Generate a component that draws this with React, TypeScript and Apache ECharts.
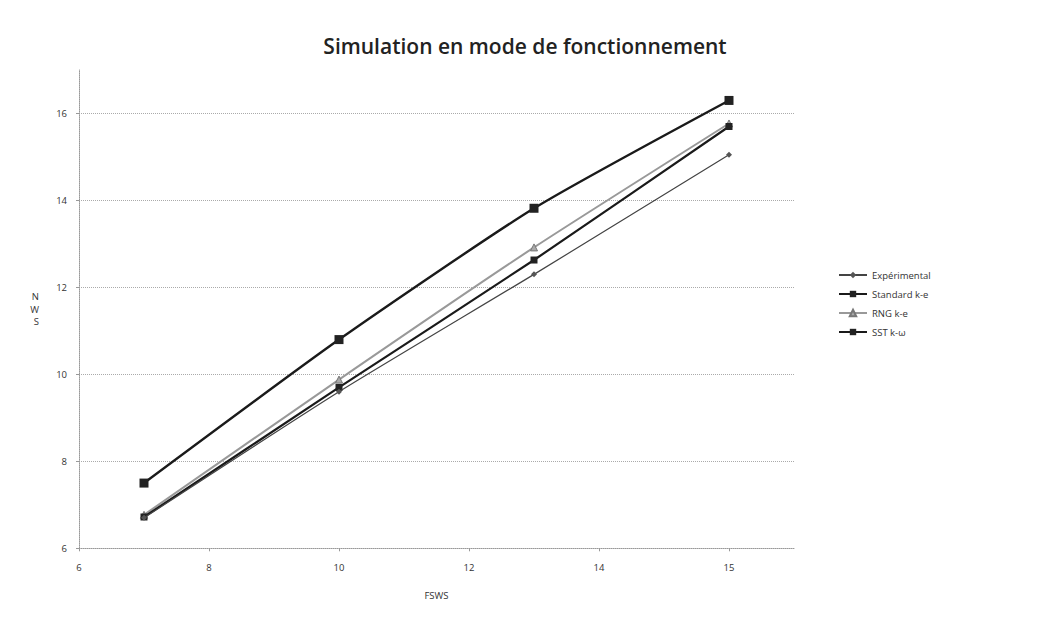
import React, { useEffect, useRef } from "react";
import * as echarts from "echarts";

const titleText = "Simulation en mode de fonctionnement";
const xAxisName = "FSWS";
const yAxisName = "N\nW\nS";
const fsws = [7, 10, 13, 16];
const xTickLabels = ["6", "8", "10", "12", "14", "15"];
const experimental = [6.7, 9.6, 12.3, 15.05];
const standardKe = [6.72, 9.7, 12.63, 15.7];
const rngKe = [6.77, 9.88, 12.92, 15.77];
const sstKw = [7.5, 10.8, 13.82, 16.3];
const seriesNames = ["Expérimental", "Standard k-e", "RNG k-e", "SST k-ω"];

const FONT = "'Open Sans', 'Noto Sans', sans-serif";

export default function App() {
  const ref = useRef<HTMLDivElement>(null);
  useEffect(() => {
    document.body.style.margin = "0";
    const chart = echarts.init(ref.current!, undefined, { renderer: "svg" });
    const pts = (ys: number[]) => fsws.map((x, i) => [x, ys[i]]);
    chart.setOption({
      animation: false,
      backgroundColor: "#fff",
      textStyle: { fontFamily: FONT },
      title: {
        text: titleText,
        left: 520,
        textAlign: "center",
        top: 30,
        textStyle: { fontFamily: FONT, fontSize: 21, fontWeight: 600, color: "#222" },
      },
      grid: { left: 79, top: 70, width: 715, height: 478.3, containLabel: false },
      legend: {
        orient: "vertical",
        left: 833,
        top: 265,
        itemGap: 9,
        itemWidth: 28,
        itemHeight: 8,
        textStyle: { fontFamily: FONT, fontSize: 9.5, color: "#333" },
        data: seriesNames,
      },
      xAxis: {
        type: "value",
        min: 6,
        max: 17,
        interval: 2,
        name: xAxisName,
        nameLocation: "middle",
        nameGap: 42,
        nameTextStyle: { fontFamily: FONT, fontSize: 9.5, color: "#333" },
        axisLine: { show: true, lineStyle: { color: "#999", type: "dotted" } },
        axisTick: { show: true, length: 3, lineStyle: { color: "#999" } },
        axisLabel: {
          fontFamily: FONT,
          fontSize: 9.5,
          color: "#333",
          margin: 14,
          showMaxLabel: false,
          formatter: (v: number) => {
            const i = Math.round((v - 6) / 2);
            return Number.isInteger((v - 6) / 2) && xTickLabels[i] ? xTickLabels[i] : "";
          },
        },
        splitLine: { show: false },
      },
      yAxis: {
        type: "value",
        min: 6,
        max: 17,
        interval: 2,
        name: yAxisName,
        nameLocation: "middle",
        nameRotate: 0,
        nameGap: 40,
        nameTextStyle: { fontFamily: FONT, fontSize: 9.5, color: "#333", lineHeight: 12.5 },
        axisLine: { show: true, lineStyle: { color: "#999", type: "dotted" } },
        axisTick: { show: true, length: 3, lineStyle: { color: "#999" } },
        axisLabel: { fontFamily: FONT, fontSize: 9.5, color: "#333", margin: 12, showMaxLabel: false },
        splitLine: {
          show: true,
          showMaxLine: false,
          lineStyle: { color: "#aaa", type: "dotted", width: 1 },
        },
      },
      series: [
        {
          name: seriesNames[0],
          type: "line",
          data: pts(experimental),
          smooth: 0.2,
          symbol: "diamond",
          symbolSize: 6,
          lineStyle: { color: "#444", width: 1.2 },
          itemStyle: { color: "#555" },
          z: 4,
        },
        {
          name: seriesNames[1],
          type: "line",
          data: pts(standardKe),
          smooth: 0.2,
          symbol: "rect",
          symbolSize: 7,
          lineStyle: { color: "#1a1a1a", width: 2.2 },
          itemStyle: { color: "#222" },
          z: 3,
        },
        {
          name: seriesNames[2],
          type: "line",
          data: pts(rngKe),
          smooth: 0.2,
          symbol: "triangle",
          symbolSize: 7,
          lineStyle: { color: "#999", width: 2 },
          itemStyle: { color: "#aaa", borderColor: "#777", borderWidth: 1 },
          z: 2,
        },
        {
          name: seriesNames[3],
          type: "line",
          data: pts(sstKw),
          smooth: 0.2,
          symbol: "rect",
          symbolSize: 9,
          lineStyle: { color: "#1a1a1a", width: 2.4 },
          itemStyle: { color: "#222" },
          z: 5,
        },
      ],
    });
    return () => chart.dispose();
  }, []);
  return <div ref={ref} style={{ width: 1037, height: 619 }} />;
}
